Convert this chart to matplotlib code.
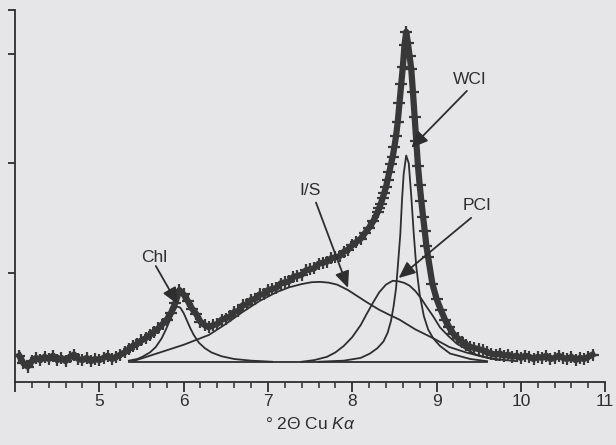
import matplotlib
matplotlib.use('Agg')
import matplotlib.pyplot as plt
from matplotlib.ticker import MultipleLocator

two_theta = [4.05, 4.10, 4.15, 4.20, 4.25, 4.30, 4.35, 4.40, 4.45, 4.50,
             4.55, 4.60, 4.65, 4.70, 4.75, 4.80, 4.85, 4.90, 4.95, 5.00,
             5.05, 5.10, 5.15, 5.20, 5.25, 5.30, 5.35, 5.40, 5.45, 5.50,
             5.55, 5.60, 5.65, 5.70, 5.75, 5.80, 5.85, 5.90, 5.95, 6.00,
             6.05, 6.10, 6.15, 6.20, 6.25, 6.30, 6.35, 6.40, 6.45, 6.50,
             6.55, 6.60, 6.65, 6.70, 6.75, 6.80, 6.85, 6.90, 6.95, 7.00,
             7.05, 7.10, 7.15, 7.20, 7.25, 7.30, 7.35, 7.40, 7.45, 7.50,
             7.55, 7.60, 7.65, 7.70, 7.75, 7.80, 7.85, 7.90, 7.95, 8.00,
             8.05, 8.10, 8.15, 8.20, 8.25, 8.30, 8.32, 8.34, 8.36, 8.38,
             8.40, 8.42, 8.44, 8.46, 8.48, 8.50, 8.52, 8.54, 8.56, 8.58,
             8.60, 8.62, 8.64, 8.66, 8.68, 8.70, 8.72, 8.74, 8.76, 8.78,
             8.80, 8.82, 8.84, 8.86, 8.88, 8.90, 8.95, 9.00, 9.05, 9.10,
             9.15, 9.20, 9.25, 9.30, 9.35, 9.40, 9.45, 9.50, 9.55, 9.60,
             9.65, 9.70, 9.75, 9.80, 9.85, 9.90, 9.95, 10.00, 10.05, 10.10,
             10.15, 10.20, 10.25, 10.30, 10.35, 10.40, 10.45, 10.50, 10.55, 10.60,
             10.65, 10.70, 10.75, 10.80, 10.85]
counts = [0.24, 0.17, 0.14, 0.19, 0.22, 0.20, 0.23, 0.21, 0.24, 0.20,
          0.22, 0.19, 0.23, 0.25, 0.21, 0.20, 0.22, 0.19, 0.21, 0.20,
          0.22, 0.24, 0.21, 0.23, 0.25, 0.27, 0.30, 0.33, 0.35, 0.38,
          0.40, 0.43, 0.46, 0.49, 0.53, 0.57, 0.63, 0.72, 0.84, 0.80,
          0.74, 0.67, 0.62, 0.55, 0.52, 0.50, 0.52, 0.53, 0.57, 0.58,
          0.60, 0.64, 0.65, 0.70, 0.71, 0.75, 0.76, 0.80, 0.80, 0.84,
          0.85, 0.86, 0.90, 0.91, 0.92, 0.96, 0.97, 0.98, 1.02, 1.03,
          1.04, 1.08, 1.09, 1.10, 1.13, 1.14, 1.15, 1.19, 1.21, 1.25,
          1.28, 1.31, 1.36, 1.41, 1.47, 1.55, 1.59, 1.63, 1.68, 1.73,
          1.78, 1.85, 1.92, 1.99, 2.06, 2.15, 2.25, 2.38, 2.55, 2.72,
          2.88, 3.08, 3.20, 3.10, 2.98, 2.86, 2.65, 2.42, 2.20, 1.97,
          1.80, 1.65, 1.51, 1.38, 1.24, 1.14, 0.90, 0.76, 0.66, 0.57,
          0.50, 0.44, 0.40, 0.37, 0.34, 0.32, 0.31, 0.30, 0.29, 0.27,
          0.26, 0.25, 0.26, 0.24, 0.25, 0.23, 0.24, 0.22, 0.24, 0.23,
          0.21, 0.23, 0.22, 0.24, 0.21, 0.22, 0.24, 0.22, 0.21, 0.23,
          0.20, 0.22, 0.21, 0.23, 0.25]

# fitted components
chl_x = [5.35, 5.45, 5.51, 5.60, 5.67, 5.74, 5.79, 5.84, 5.88, 5.92, 5.96,
         6.00, 6.04, 6.08, 6.12, 6.18, 6.25, 6.33, 6.45, 6.60, 6.80, 7.05]
chl_y = [0.195, 0.21, 0.23, 0.27, 0.32, 0.40, 0.48, 0.57, 0.64, 0.69, 0.68,
         0.63, 0.56, 0.49, 0.43, 0.36, 0.31, 0.27, 0.235, 0.21, 0.195, 0.185]

is_x = [5.40, 5.60, 6.00, 6.30, 6.50, 6.70, 6.90, 7.10, 7.25, 7.40, 7.52,
        7.62, 7.72, 7.82, 7.95, 8.05, 8.17, 8.32, 8.45, 8.56, 8.75, 8.96,
        9.15, 9.35, 9.55, 9.75, 9.95]
is_y = [0.19, 0.24, 0.34, 0.43, 0.53, 0.64, 0.74, 0.82, 0.865, 0.895, 0.912,
        0.915, 0.908, 0.89, 0.84, 0.79, 0.73, 0.66, 0.61, 0.57, 0.48, 0.40,
        0.32, 0.27, 0.23, 0.205, 0.19]

pcl_x = [7.40, 7.55, 7.70, 7.80, 7.90, 8.00, 8.10, 8.17, 8.25, 8.32, 8.40,
         8.48, 8.55, 8.62, 8.68, 8.75, 8.82, 8.88, 8.96, 9.04, 9.14, 9.24,
         9.35, 9.47, 9.60, 9.75]
pcl_y = [0.185, 0.20, 0.23, 0.27, 0.33, 0.41, 0.52, 0.62, 0.73, 0.82, 0.89,
         0.925, 0.92, 0.905, 0.88, 0.83, 0.76, 0.69, 0.60, 0.50, 0.42, 0.35,
         0.30, 0.25, 0.22, 0.20]

wcl_x = [7.60, 7.90, 8.10, 8.21, 8.30, 8.37, 8.42, 8.46, 8.49, 8.52, 8.54,
         8.57, 8.59, 8.61, 8.64, 8.67, 8.70, 8.73, 8.76, 8.80, 8.85, 8.90,
         8.96, 9.04, 9.16, 9.40, 9.60]
wcl_y = [0.185, 0.195, 0.22, 0.26, 0.31, 0.37, 0.45, 0.56, 0.69, 0.86, 1.05,
         1.35, 1.66, 1.90, 2.07, 2.00, 1.70, 1.35, 1.05, 0.80, 0.60, 0.48,
         0.40, 0.33, 0.26, 0.21, 0.19]

base_x = [5.35, 9.60]
base_y = [0.185, 0.185]

labels = ['Chl', 'I/S', 'PCI', 'WCI']
label_xy = [(5.65, 1.14), (7.50, 1.75), (9.48, 1.61), (9.39, 2.76)]
arrow_from = [(5.67, 1.06), (7.57, 1.64), (9.41, 1.50), (9.36, 2.66)]
arrow_to = [(5.93, 0.71), (7.95, 0.86), (8.55, 0.95), (8.70, 2.14)]

ink = '#2e2e2e'
bg = '#e6e6e8'

plt.rcParams['font.family'] = ['Liberation Sans', 'DejaVu Sans']
plt.rcParams['mathtext.fontset'] = 'custom'
plt.rcParams['mathtext.it'] = 'Liberation Sans:italic'
plt.rcParams['mathtext.rm'] = 'Liberation Sans'

fig = plt.figure(figsize=(6.16, 4.45), dpi=100, facecolor=bg)
ax = fig.add_axes([0.0244, 0.1416, 0.958, 0.836], facecolor=bg)

# components
for cx, cy in [(chl_x, chl_y), (is_x, is_y), (pcl_x, pcl_y), (wcl_x, wcl_y), (base_x, base_y)]:
    ax.plot(cx, cy, color=ink, lw=1.3, solid_joinstyle='round', zorder=3)

# measured data, drawn over the components
ax.plot(two_theta, counts, color='#383838', lw=4.5, marker='+', ms=9, mew=1.6,
        solid_joinstyle='round', zorder=4)

for lab, (tx, ty), p0, p1 in zip(labels, label_xy, arrow_from, arrow_to):
    ax.text(tx, ty, lab, fontsize=12.5, color=ink, ha='center', va='center')
    ax.annotate('', xy=p1, xytext=p0,
                arrowprops=dict(arrowstyle='-|>,head_length=0.5,head_width=0.22',
                                color=ink, lw=1.3,
                                mutation_scale=20, shrinkA=0, shrinkB=0),
                zorder=5)

ax.set_xlim(4.0, 11.0)
ax.set_ylim(0, 3.4)
ax.xaxis.set_major_locator(MultipleLocator(1))
ax.xaxis.set_minor_locator(MultipleLocator(0.2))
ax.set_xticks([4, 5, 6, 7, 8, 9, 10, 11])
ax.set_xticklabels(['', '5', '6', '7', '8', '9', '10', '11'])
ax.set_yticks([1, 2, 3, 3.4])
ax.set_yticklabels([])

for s in ['top', 'right']:
    ax.spines[s].set_visible(False)
for s in ['left', 'bottom']:
    ax.spines[s].set_color(ink)
    ax.spines[s].set_linewidth(1.3)

ax.tick_params(axis='x', which='major', direction='out', length=7, width=1.3,
               color=ink, labelsize=12.5, labelcolor=ink, pad=2)
ax.tick_params(axis='x', which='minor', direction='out', length=4, width=1.1,
               color=ink)
ax.tick_params(axis='y', which='major', direction='out', length=5, width=1.3,
               color=ink)

ax.set_xlabel(r'° 2Θ Cu $K\alpha$', fontsize=12.5, color=ink, labelpad=5)

fig.savefig('out.png', dpi=100, facecolor=bg)
